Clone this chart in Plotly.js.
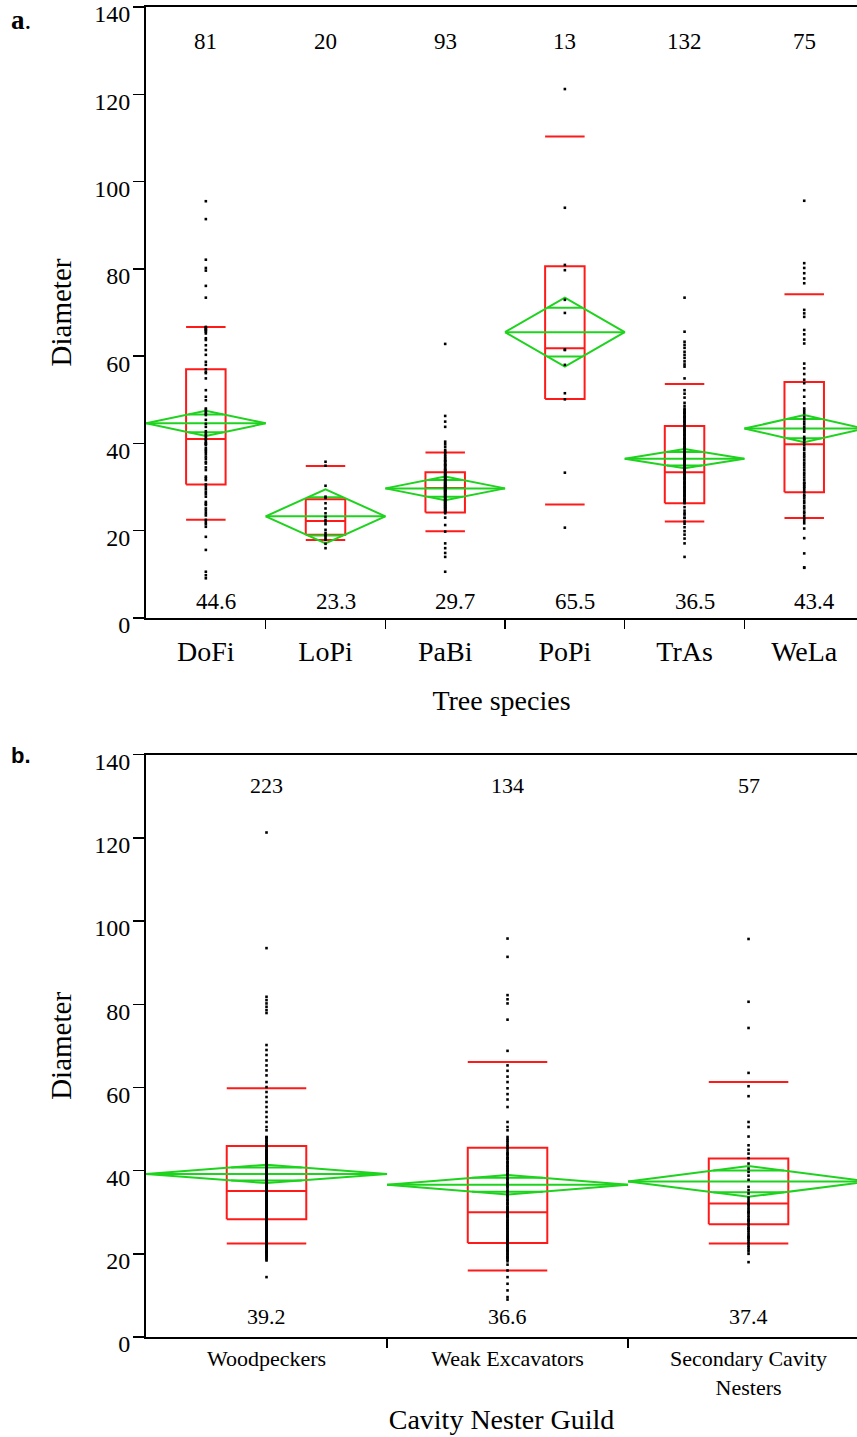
<!DOCTYPE html>
<html>
<head>
<meta charset="utf-8">
<script src="https://cdn.plot.ly/plotly-3.0.1.min.js"></script>
<style>html,body{margin:0;padding:0;background:#fff;}#chart{width:857px;height:1437px;}</style>
</head>
<body>
<div id="chart"></div>
<script>
// ---------- Panel a: Tree species ----------
const species = ['DoFi', 'LoPi', 'PaBi', 'PoPi', 'TrAs', 'WeLa'];
const speciesN = [81, 20, 93, 13, 132, 75];
const speciesMean = [44.6, 23.3, 29.7, 65.5, 36.5, 43.4];
const speciesCI = [2.9, 6.2, 2.7, 7.9, 2.2, 3.1];
const speciesP10 = [22.5, 17.9, 19.9, 26.0, 22.1, 22.9];
const speciesQ1 = [30.6, 19.1, 24.2, 50.2, 26.3, 28.8];
const speciesMedian = [41.0, 22.2, 29.8, 61.8, 33.4, 39.8];
const speciesQ3 = [57.0, 27.2, 33.4, 80.6, 44.0, 54.1];
const speciesP90 = [66.7, 34.8, 37.9, 110.3, 53.6, 74.2];

const dofiPts = [95.5, 91.4, 82.1, 80.2, 79.6, 76.1, 73.4,
  66.7, 66.5, 66.3, 66.0, 65.9, 65.6, 65.2, 64.1, 63.7, 62.5, 61.4, 60.3, 58.7, 58.0, 57.0, 56.4, 56.1, 54.9, 52.2, 50.7, 49.9,
  48.0, 47.7, 47.2, 46.8, 46.5, 45.4, 44.5, 43.8, 42.8, 42.3, 41.9, 41.5, 41.0, 40.8, 40.3, 40.0, 39.9, 39.6, 38.9, 38.5, 38.1,
  37.6, 37.0, 36.5, 35.8, 35.4, 34.5, 33.9, 32.4, 32.0, 31.6, 30.6, 30.1, 29.5, 28.9, 28.4, 27.8, 26.6, 26.2, 25.9, 25.1, 24.6,
  24.0, 23.5, 22.5, 22.0, 21.5, 20.9, 18.6, 15.6, 10.6, 9.8, 9.1];
const lopiPts = [35.8, 34.9, 30.3, 27.8, 27.5, 26.3, 25.1, 24.0, 23.2, 22.5, 22.1, 21.5, 20.2, 19.5, 19.0, 18.8, 18.3, 17.9, 17.0, 16.0];
const pabiPts = [62.8, 46.3, 45.0, 43.8, 40.4, 39.8, 39.2, 38.5, 38.1, 37.8, 37.4, 37.0, 36.7, 36.3, 36.0, 35.6, 35.3, 35.0,
  34.7, 34.3, 34.0, 33.8, 33.5, 33.2, 33.0, 32.7, 32.4, 32.1, 31.9, 31.6, 31.3, 31.0, 30.8, 30.5, 30.3, 30.0, 29.8, 29.5,
  29.3, 29.0, 28.8, 28.5, 28.3, 28.0, 27.8, 27.5, 27.3, 27.0, 26.8, 26.5, 26.3, 26.0, 25.8, 25.5, 25.3, 25.0, 24.8, 24.5,
  24.3, 24.0, 23.0, 21.3, 19.8, 17.1, 16.0, 14.9, 14.0, 10.6,
  30.0, 31.0, 32.0, 29.0, 28.0, 27.0, 26.0, 25.0, 33.0, 34.0, 35.0, 36.0, 30.5, 29.5, 28.5, 27.5, 31.5, 32.5, 26.5, 25.5, 24.5, 30.2, 29.2];
const popiPts = [121.2, 94.0, 80.9, 79.7, 72.9, 69.9, 61.5, 61.4, 58.0, 51.5, 50.1, 33.3, 20.7];
const trasPts = [73.4, 65.6, 63.3, 62.6, 61.9, 61.0, 60.3, 59.6, 58.8, 58.1, 57.6, 54.9, 52.2, 51.4, 50.5, 49.3, 48.6,
  48.0, 47.7, 47.5, 47.1, 46.9, 46.6, 46.2, 46.0, 45.7, 45.4, 45.1, 44.9, 44.5, 44.3, 44.0, 43.7, 43.4, 43.2, 42.8, 42.6,
  42.3, 42.0, 41.8, 41.4, 41.2, 40.9, 40.6, 40.3, 40.1, 39.8, 39.5, 39.2, 39.0, 38.7, 38.4, 38.1, 37.9, 37.6, 37.3, 37.0,
  36.8, 36.5, 36.2, 35.9, 35.6, 35.4, 35.1, 34.8, 34.5, 34.3, 34.0, 33.7, 33.4, 33.2, 32.9, 32.6, 32.3, 32.0, 31.8, 31.5,
  31.2, 30.9, 30.7, 30.4, 30.1, 29.8, 29.6, 29.3, 29.0, 28.7, 28.4, 28.2, 27.9, 27.6, 27.3, 27.1, 26.8, 26.5, 26.3,
  25.4, 24.6, 23.7, 22.9, 22.1, 21.6, 20.8, 19.9, 19.1, 18.2, 17.1, 14.0,
  36.0, 35.0, 34.0, 33.0, 32.0, 31.0, 38.0, 40.0, 30.0, 29.0, 28.0, 37.0, 39.0, 41.0, 42.0, 43.0, 44.0, 45.0, 27.0, 26.6, 46.0, 47.0, 24.0, 23.0];
const welaPts = [95.6, 81.3, 80.2, 79.0, 77.8, 76.7, 70.6, 69.8, 69.0, 66.0, 65.0, 63.8, 62.9, 58.3, 57.2, 55.9, 54.6,
  53.8, 52.2, 50.7, 49.2, 48.0, 46.9, 46.1, 45.0, 43.8, 42.7, 41.5, 40.8, 39.6, 38.5, 37.3, 36.2, 35.1, 33.9, 32.8, 31.6,
  30.9, 30.1, 29.3, 28.2, 27.4, 26.3, 25.1, 24.0, 22.8, 21.7, 20.5, 18.3, 14.8, 11.6, 11.5,
  47.5, 44.4, 41.0, 39.0, 36.8, 34.5, 33.3, 31.0, 29.8, 28.8, 27.9, 26.8, 25.6, 24.4, 23.4, 22.3, 45.6, 43.2, 40.2, 37.8, 35.6, 32.2, 30.5];
const speciesPoints = [dofiPts, lopiPts, pabiPts, popiPts, trasPts, welaPts];

// ---------- Panel b: Cavity Nester Guild ----------
const guilds = ['Woodpeckers', 'Weak Excavators', 'Secondary Cavity<br>Nesters'];
const guildN = [223, 134, 57];
const guildMean = [39.2, 36.6, 37.4];
const guildCI = [2.2, 2.35, 3.7];
const guildP10 = [22.5, 16.0, 22.5];
const guildQ1 = [28.3, 22.6, 27.1];
const guildMedian = [35.1, 30.0, 32.1];
const guildQ3 = [45.9, 45.5, 42.9];
const guildP90 = [59.8, 66.1, 61.3];

const woodPts = [121.3, 93.5, 81.8, 81.0, 80.2, 79.4, 78.6, 77.9, 70.2, 69.0, 67.8, 66.5, 65.3, 64.1, 62.9, 61.3, 60.1,
  58.9, 57.7, 56.5, 55.3, 54.1, 52.9, 51.7, 50.5, 49.7,
  48.1, 47.8, 47.4, 47.1, 46.8, 46.4, 46.1, 45.7, 45.4, 45.0, 44.7, 44.4, 44.0, 43.7, 43.3, 43.0, 42.6, 42.3, 42.0, 41.6,
  41.3, 40.9, 40.6, 40.2, 39.9, 39.6, 39.2, 38.9, 38.5, 38.2, 37.8, 37.5, 37.2, 36.8, 36.5, 36.1, 35.8, 35.4, 35.1, 34.8,
  34.4, 34.1, 33.7, 33.4, 33.0, 32.7, 32.4, 32.0, 31.7, 31.3, 31.0, 30.6, 30.3, 30.0, 29.6, 29.3, 28.9, 28.6, 28.2, 27.9,
  27.6, 27.2, 26.9, 26.5, 26.2, 25.8, 25.5, 25.2, 24.8, 24.5, 24.1, 23.8, 23.4, 23.1, 22.8, 22.4, 22.1, 21.7, 21.4, 21.0,
  20.7, 20.4, 20.0, 19.7, 19.3, 19.0, 18.7, 18.4, 14.4,
  45.0, 44.0, 43.0, 42.0, 41.0, 40.0, 39.0, 38.0, 37.0, 36.0, 35.0, 34.0, 33.0, 32.0, 31.0, 30.0, 29.0, 28.0, 27.0, 26.0,
  25.0, 24.0, 23.0, 22.0, 40.5, 39.5, 38.6, 37.6, 36.6, 35.6, 34.6, 33.6, 32.6, 31.6, 30.5, 29.5, 28.4, 27.4, 26.4, 25.4,
  24.4, 23.4, 22.5, 21.2, 48.0, 46.2, 44.5, 42.8, 41.8, 40.8, 39.8, 38.8, 37.8, 36.9, 35.9, 34.9, 33.9, 32.9, 31.9, 30.9,
  29.9, 28.8, 27.8, 26.8, 25.7, 24.7, 23.6, 22.6, 20.2, 19.5, 43.5, 41.4, 39.4, 37.4, 35.4, 33.5, 31.5, 29.7, 27.5, 25.6,
  23.9, 21.8, 38.4, 36.3, 34.3, 32.2, 30.2, 28.1, 26.1, 24.2, 22.2, 20.5];
const weakPts = [95.8, 91.4, 82.2, 81.2, 80.2, 76.3, 68.8, 65.3, 64.0, 62.6, 61.3, 59.8, 58.4, 57.1, 55.3, 51.7, 50.5, 49.7, 48.1,
  47.6, 47.2, 46.8, 46.3, 45.9, 45.5, 45.1, 44.6, 44.2, 43.8, 43.3, 42.9, 42.5, 42.0, 41.6, 41.2, 40.7, 40.3, 39.9, 39.4,
  39.0, 38.6, 38.1, 37.7, 37.3, 36.8, 36.4, 36.0, 35.5, 35.1, 34.7, 34.2, 33.8, 33.4, 32.9, 32.5, 32.1, 31.6, 31.2, 30.8,
  30.3, 29.9, 29.5, 29.0, 28.6, 28.2, 27.7, 27.3, 26.9, 26.4, 26.0, 25.6, 25.1, 24.7, 24.3, 23.8, 23.4, 23.0, 22.5, 22.1,
  21.7, 21.2, 20.8, 20.4, 19.9, 19.5, 19.1, 18.6, 18.2, 17.4, 16.0, 14.4, 12.8, 11.2, 9.6, 9.0,
  44.0, 42.0, 40.0, 38.0, 36.2, 34.0, 32.0, 30.0, 28.0, 26.2, 24.0, 22.8, 21.0, 19.3, 43.0, 41.0, 39.2, 37.0, 35.0, 33.0,
  31.0, 29.2, 27.0, 25.3, 23.2, 20.0, 30.5, 29.7, 28.9, 27.5, 26.6, 25.9, 24.5, 23.6, 22.3, 21.5, 20.6, 18.9];
const secPts = [95.7, 80.6, 74.3, 63.5, 60.3, 57.9, 51.7, 50.5, 48.2, 46.1, 45.0, 44.1, 43.0, 41.7, 40.5, 39.7, 38.8, 37.8,
  36.1, 35.3, 34.5, 33.5, 32.9, 32.4, 32.0, 31.9, 31.5, 31.0, 30.6, 30.1, 30.0, 29.7, 29.2, 28.8, 28.3, 28.0, 27.9, 27.4,
  27.0, 26.5, 26.1, 26.0, 25.6, 25.2, 24.7, 24.3, 24.0, 23.8, 23.4, 22.9, 22.5, 22.0, 21.6, 21.1, 20.6, 20.0, 18.0];
const guildPoints = [woodPts, weakPts, secPts];

// ---------- styling ----------
const SERIF = "'Liberation Serif', 'Times New Roman', Times, serif";
const SANS = "'Liberation Sans', Arial, sans-serif";
const RED = '#ff1a1a';
const GREEN = '#1ed31e';
const BOX_HALF = 0.165;
const OVL_HALF = 0.5 * (1 - Math.SQRT1_2);

function panelTraces(xa, ya, p10, q1, med, q3, p90, mean, ci, pts) {
  const boxX = [], boxY = [], lineX = [], lineY = [];
  const dX = [], dY = [], gX = [], gY = [];
  const ptX = [], ptY = [];
  for (let i = 0; i < mean.length; i++) {
    boxX.push(i - BOX_HALF, i + BOX_HALF, i + BOX_HALF, i - BOX_HALF, i - BOX_HALF, null);
    boxY.push(q1[i], q1[i], q3[i], q3[i], q1[i], null);
    [med[i], p10[i], p90[i]].forEach(v => { lineX.push(i - BOX_HALF, i + BOX_HALF, null); lineY.push(v, v, null); });
    const m = mean[i], c = ci[i], o = c * Math.SQRT1_2;
    dX.push(i - 0.5, i, i + 0.5, i, i - 0.5, null);
    dY.push(m, m + c, m, m - c, m, null);
    gX.push(i - 0.5, i + 0.5, null, i - OVL_HALF, i + OVL_HALF, null, i - OVL_HALF, i + OVL_HALF, null);
    gY.push(m, m, null, m + o, m + o, null, m - o, m - o, null);
    pts[i].forEach(v => { ptX.push(i); ptY.push(v); });
  }
  const base = { xaxis: xa, yaxis: ya, hoverinfo: 'skip', showlegend: false };
  return [
    Object.assign({ type: 'scatter', mode: 'lines', x: boxX, y: boxY, line: { color: RED, width: 2 } }, base),
    Object.assign({ type: 'scatter', mode: 'lines', x: lineX, y: lineY, line: { color: RED, width: 2 } }, base),
    Object.assign({ type: 'scatter', mode: 'lines', x: dX, y: dY, line: { color: GREEN, width: 2 } }, base),
    Object.assign({ type: 'scatter', mode: 'lines', x: gX, y: gY, line: { color: GREEN, width: 2 } }, base),
    Object.assign({ type: 'scatter', mode: 'markers', x: ptX, y: ptY,
      marker: { symbol: 'square', size: 2.6, color: 'black', line: { width: 0 } } }, base)
  ];
}

const data = [].concat(
  panelTraces('x', 'y', speciesP10, speciesQ1, speciesMedian, speciesQ3, speciesP90, speciesMean, speciesCI, speciesPoints),
  panelTraces('x2', 'y2', guildP10, guildQ1, guildMedian, guildQ3, guildP90, guildMean, guildCI, guildPoints)
);

const annotations = [];
species.forEach((s, i) => {
  annotations.push({ xref: 'x', yref: 'y', x: i, y: 132, text: String(speciesN[i]), showarrow: false, font: { family: SERIF, size: 23, color: 'black' } });
  annotations.push({ xref: 'x', yref: 'y', x: i, y: 3.7, xshift: 10, text: speciesMean[i].toFixed(1), showarrow: false, font: { family: SERIF, size: 23, color: 'black' } });
});
guilds.forEach((g, i) => {
  annotations.push({ xref: 'x2', yref: 'y2', x: i, y: 132.6, text: String(guildN[i]), showarrow: false, font: { family: SERIF, size: 22, color: 'black' } });
  annotations.push({ xref: 'x2', yref: 'y2', x: i, y: 4.9, text: guildMean[i].toFixed(1), showarrow: false, font: { family: SERIF, size: 22, color: 'black' } });
});
annotations.push({ xref: 'paper', yref: 'paper', x: -0.193, y: 0.9905, xanchor: 'left', yanchor: 'middle', text: '<b>a</b>.', showarrow: false, font: { family: SERIF, size: 27, color: 'black' } });
annotations.push({ xref: 'paper', yref: 'paper', x: -0.193, y: 0.4375, xanchor: 'left', yanchor: 'middle', text: '<b>b.</b>', showarrow: false, font: { family: SANS, size: 22, color: 'black' } });

const yTicks = [0, 20, 40, 60, 80, 100, 120, 140];
function yAxis(domain, anchor) {
  return {
    domain: domain, anchor: anchor, range: [0, 140], tickmode: 'array', tickvals: yTicks,
    ticks: 'outside', ticklen: 11, tickwidth: 1.5, tickcolor: 'black', ticklabeloverflow: 'allow',
    ticklabelshift: 7, ticklabelstandoff: -2,
    showline: true, linewidth: 2, linecolor: 'black', showgrid: false, zeroline: false,
    tickfont: { family: SERIF, size: 24, color: 'black' },
    title: { text: 'Diameter', font: { family: SERIF, size: 29, color: 'black' }, standoff: 14 }
  };
}
function catAxis(anchor, range, labels, fs, tlen, title, standoff) {
  const bounds = [];
  for (let i = 0; i < labels.length - 1; i++) bounds.push(i + 0.5);
  return {
    domain: [0, 1], anchor: anchor, range: range,
    tickmode: 'array', tickvals: labels.map((_, i) => i), ticktext: labels,
    ticks: 'outside', ticklen: tlen, tickcolor: 'rgba(0,0,0,0)', ticklabeloverflow: 'allow',
    minor: { tickmode: 'array', tickvals: bounds, ticks: 'outside', ticklen: 9, tickwidth: 1.5, tickcolor: 'black', showgrid: false },
    showline: true, linewidth: 2, linecolor: 'black', mirror: true, showgrid: false, zeroline: false,
    tickfont: { family: SERIF, size: fs, color: 'black' },
    title: { text: title, font: { family: SERIF, size: 28, color: 'black' }, standoff: standoff }
  };
}

const layout = {
  width: 857, height: 1437,
  margin: { l: 146, r: 0, t: 7, b: 100 },
  paper_bgcolor: 'white', plot_bgcolor: 'white', showlegend: false,
  font: { family: SERIF, color: 'black' },
  xaxis: catAxis('y', [-0.5, 5.441], species, 28, 7, 'Tree species', 25),
  yaxis: yAxis([0.5406, 1], 'x'),
  xaxis2: catAxis('y2', [-0.5, 2.45], guilds, 22, 1, 'Cavity Nester Guild', 10),
  yaxis2: yAxis([0, 0.4378], 'x2'),
  annotations: annotations
};

Plotly.newPlot('chart', data, layout, { staticPlot: true, displayModeBar: false });
</script>
</body>
</html>
